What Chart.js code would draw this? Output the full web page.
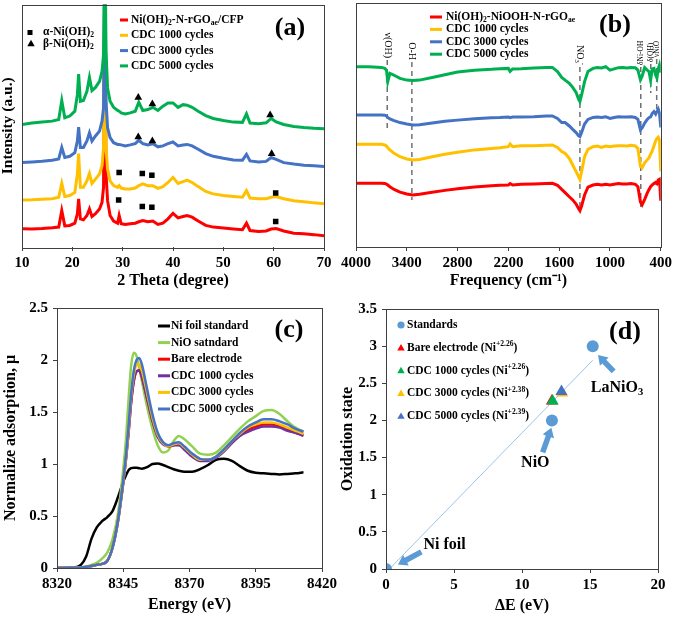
<!DOCTYPE html>
<html>
<head>
<meta charset="utf-8">
<script src="https://cdn.jsdelivr.net/npm/chart.js@4.4.1/dist/chart.umd.min.js"></script>
<style>
  html, body { margin: 0; padding: 0; background: #fff; }
  #wrap { position: relative; width: 675px; height: 618px; }
  #wrap canvas { position: absolute; left: 0; top: 0; }
</style>
</head>
<body>
<div id="wrap">
  <canvas id="xrd" width="675" height="618"></canvas>
  <canvas id="ftir" width="675" height="618"></canvas>
  <canvas id="xanes" width="675" height="618"></canvas>
  <canvas id="ox" width="675" height="618"></canvas>
</div>
<script>
// ---- (a) XRD patterns, intensity in arbitrary units ----
const xrdTheta = [10,12,14,16,17.3,17.9,18.5,19.5,20.5,21.0,21.25,21.6,22.2,22.9,23.4,23.9,24.6,25.4,25.9,26.2,26.45,26.7,27.0,27.5,28.2,29.0,29.3,29.7,30.5,31.5,32.5,33.2,34.0,35.0,36.0,37.0,38.0,39.0,40.0,41.0,42.0,42.8,43.8,45.0,46.5,48,50,52,53.8,54.6,55.3,57,58.5,59.5,60.5,62,64,66,68,70];
const xrdBare = [7.5,7.4,7.6,7.9,8.2,15.0,8.7,8.9,9.8,13.7,19.8,11.6,11.2,13.0,15.7,12.6,13.7,15.7,18.4,24.6,110,30.0,19.1,13.0,10.7,9.8,13.0,9.6,9.3,9.6,9.8,10.4,10.9,10.4,10.7,9.3,9.8,11.6,13.9,12.0,12.6,13.0,12.3,10.7,8.9,8.2,7.8,7.4,7.1,9.8,6.8,6.4,6.6,7.4,7.6,6.6,5.7,5.5,5.1,4.6];
const xrd1000 = [19.4,19.5,19.7,19.9,20.5,26.2,20.8,21.2,22.5,30.1,38.5,24.6,24.6,27.3,30.3,26.2,28.0,30.1,33.5,41.0,115,41.0,32.1,27.3,25.3,24.6,25.3,24.3,23.9,23.9,24.3,25.3,26.0,25.3,25.3,24.2,24.9,26.6,28.7,26.2,27.0,27.6,26.6,24.9,22.9,21.9,21.2,20.8,20.5,23.2,20.2,19.9,19.9,20.5,20.8,19.9,19.1,18.7,18.2,17.8];
const xrd3000 = [34.8,35.1,35.4,35.8,36.3,41.0,36.9,37.4,38.9,43.7,49.4,41.0,41.0,43.7,47.1,43.7,45.8,47.8,51.9,57.4,120,60.1,49.2,45.1,43.0,42.3,42.3,42.1,41.7,42.1,42.6,44.0,42.6,42.1,42.6,41.3,41.7,42.6,43.3,41.7,42.1,42.3,41.7,40.3,38.5,37.4,36.6,35.9,35.8,38.2,35.5,35.1,35.3,36.9,36.1,34.8,34.2,33.7,33.5,33.2];
const xrd5000 = [50.5,51.1,51.5,51.9,52.6,60.4,53.3,54.0,56.0,62.8,71.3,60.1,60.4,64.2,69.9,64.5,65.8,68.3,72.4,79.2,130,80.6,65.6,60.1,57.6,56.3,56.0,55.3,54.9,55.3,56.0,59.7,56.3,56.7,57.6,56.3,58.1,59.4,59.4,57.6,58.7,58.5,57.6,56.0,54.2,53.0,52.2,51.5,51.4,54.9,51.1,50.8,51.2,53.0,51.6,50.5,49.7,49.3,49.0,48.8];
const alphaTheta = [29.2, 33.9, 35.8, 60.4, 29.3, 33.9, 35.8, 60.4];
const alphaInt = [19.4, 16.7, 16.4, 10.5, 30.7, 30.3, 29.6, 22.3];
const betaTheta = [33.1, 35.9, 59.6, 33.1, 35.9, 59.3];
const betaInt = [45.4, 43.7, 38.5, 61.7, 59.0, 54.4];
const xrdNames = [
  ['Ni(OH)', ['2', 'sub'], '-N-rGO', ['ae', 'sub'], '/CFP'],
  ['CDC 1000 cycles'], ['CDC 3000 cycles'], ['CDC 5000 cycles']
];

// ---- (b) FTIR spectra ----
const ftirFreq = [4000,3850,3700,3660,3640,3625,3600,3550,3480,3400,3330,3250,3100,2950,2800,2600,2400,2300,2200,2180,2150,2050,1900,1750,1680,1620,1570,1530,1480,1440,1400,1370,1355,1335,1300,1260,1200,1150,1100,1050,1000,950,900,850,800,750,700,670,640,620,590,560,540,520,500,480,460,445,430,415,400];
const ftirBare = [26.1,26.1,26.1,26.0,25.8,25.4,24.7,23.6,22.5,21.7,21.3,21.6,22.4,23.2,23.9,24.6,25.1,25.3,25.4,26.0,25.4,25.7,25.8,26.0,26.1,25.3,23.6,22.3,20.6,19.3,17.6,15.7,14.9,16.8,21.3,24.5,25.4,25.7,25.4,25.7,25.4,25.7,26.0,25.8,25.8,26.0,25.7,24.7,18.5,17.3,19.5,22.1,23.5,24.7,25.5,26.0,26.5,26.0,27.5,27.8,19.0];
const ftir1000 = [42.1,42.1,42.1,41.8,41.4,40.7,39.8,38.4,37.0,36.1,35.7,35.9,37.0,38.0,38.8,39.8,40.4,40.7,41.1,42.2,41.1,41.5,41.5,41.7,41.8,40.8,39.1,38.4,36.3,33.6,30.9,28.8,27.7,30.9,37.0,40.0,41.1,41.4,40.8,41.4,41.1,41.4,41.5,41.5,41.4,41.7,41.4,40.4,33.0,32.5,34.5,35.7,36.5,38.0,39.5,41.5,43.5,44.5,45.0,44.0,31.0];
const ftir3000 = [54.1,54.1,54.1,54.0,53.7,53.1,52.5,51.8,51.0,50.4,50.0,50.1,50.8,51.5,52.0,52.6,53.0,53.1,53.3,53.0,53.3,53.3,53.4,53.7,53.7,52.7,51.0,51.0,49.6,48.2,46.9,45.5,45.2,46.9,50.4,52.3,53.1,53.3,53.1,53.4,52.7,53.1,53.4,53.3,53.3,53.4,53.1,52.3,48.0,48.8,50.8,52.3,53.0,53.3,54.8,55.5,54.5,55.5,56.5,55.0,49.0];
const ftir5000 = [73.9,73.9,73.6,73.2,72.5,67.8,71.2,70.4,69.1,68.4,68.2,68.4,69.5,70.6,71.7,72.4,72.8,73.1,73.2,72.0,73.0,73.1,73.4,73.6,73.6,71.9,69.5,68.4,67.1,65.4,63.3,60.5,59.6,62.3,67.8,71.9,73.2,73.6,73.4,73.9,72.5,73.0,73.5,73.6,73.4,73.6,73.5,72.5,68.5,70.0,73.5,72.5,72.0,68.4,73.0,73.2,70.5,69.3,73.0,74.6,71.5];
const peakFreq = [3631, 3340, 1355, 636, 518, 448];
const dashTop = [76.6, 75.8, 73.8, 73.8, 75.0, 77.0];
const dashBottom = [48.8, 19.3, 16.4, 16.4, 63.1, 56.1];
const peakNames = [['ν(OH)'], ['O-H'], ['NO', ['3', 'sub'], ['-', 'sup']], ['δNi-OH'], ['δ(OH)'], ['νNiO']];
const ftirNames = [
  ['Ni(OH)', ['2', 'sub'], '-NiOOH-N-rGO', ['ae', 'sub']],
  ['CDC 1000 cycles'], ['CDC 3000 cycles'], ['CDC 5000 cycles']
];

// ---- (c) Ni K-edge XANES ----
const xanesE = [8320,8326,8329,8331,8333,8335,8337,8339,8341,8343,8345,8346,8347,8348,8349,8350,8351,8352,8354,8356,8358,8360,8362,8364,8366,8368,8371,8374,8377,8380,8383,8386,8389,8392,8395,8398,8401,8404,8407,8410,8413];
const muFoil = [0,0.005,0.03,0.11,0.28,0.39,0.45,0.49,0.55,0.68,0.83,0.89,0.94,0.96,0.965,0.965,0.96,0.955,0.97,1.0,1.005,0.99,0.97,0.95,0.935,0.925,0.925,0.95,0.99,1.04,1.05,1.03,0.98,0.935,0.915,0.91,0.905,0.90,0.905,0.91,0.92];
const muNiO = [0,0.003,0.008,0.015,0.03,0.05,0.09,0.15,0.28,0.52,0.95,1.23,1.62,1.95,2.07,2.04,1.93,1.8,1.55,1.34,1.18,1.11,1.13,1.22,1.27,1.24,1.17,1.10,1.09,1.11,1.18,1.26,1.34,1.41,1.46,1.51,1.52,1.48,1.41,1.35,1.31];
const muBare = [0,0.002,0.005,0.01,0.02,0.03,0.04,0.07,0.2,0.45,0.82,1.04,1.3,1.6,1.8,1.89,1.9,1.84,1.63,1.42,1.27,1.2,1.17,1.18,1.19,1.15,1.08,1.04,1.04,1.07,1.13,1.21,1.28,1.33,1.36,1.38,1.38,1.36,1.33,1.3,1.28];
const mu1000 = [0,0.002,0.005,0.01,0.02,0.03,0.04,0.07,0.2,0.45,0.82,1.04,1.3,1.6,1.8,1.89,1.9,1.84,1.63,1.42,1.26,1.19,1.17,1.18,1.18,1.14,1.07,1.03,1.03,1.06,1.12,1.2,1.27,1.31,1.34,1.36,1.36,1.35,1.32,1.3,1.27];
const mu3000 = [0,0.002,0.005,0.01,0.02,0.03,0.04,0.07,0.2,0.45,0.83,1.05,1.33,1.65,1.86,1.95,1.96,1.9,1.68,1.45,1.28,1.2,1.17,1.19,1.2,1.16,1.09,1.04,1.04,1.07,1.13,1.22,1.29,1.35,1.38,1.4,1.4,1.38,1.35,1.32,1.29];
const mu5000 = [0,0.002,0.005,0.01,0.02,0.03,0.04,0.07,0.2,0.45,0.84,1.07,1.36,1.68,1.9,2.0,2.02,1.96,1.72,1.48,1.3,1.21,1.18,1.2,1.21,1.17,1.1,1.05,1.04,1.07,1.14,1.22,1.3,1.36,1.4,1.43,1.43,1.41,1.38,1.34,1.31];
const xanesNames = ['Ni foil standard', 'NiO satndard', 'Bare electrode', 'CDC 1000 cycles', 'CDC 3000 cycles', 'CDC 5000 cycles'];

// ---- (d) oxidation state vs edge shift ----
const stdShift = [0, 12.2, 15.2];
const stdOx = [0, 2, 3];
const sampleShift = [12.2, 12.25, 12.95, 12.9];
const sampleOx = [2.26, 2.26, 2.37, 2.39];
const trendShift = [0.25, 15.2];
const trendOx = [0, 2.81];
const oxNames = [
  ['Standards'],
  ['Bare electrode (Ni', ['+2.26', 'sup'], ')'],
  ['CDC 1000 cycles (Ni', ['+2.26', 'sup'], ')'],
  ['CDC 3000 cycles (Ni', ['+2.38', 'sup'], ')'],
  ['CDC 5000 cycles (Ni', ['+2.39', 'sup'], ')']
];
const calloutNames = [['LaNiO', ['3', 'sub']], ['NiO'], ['Ni foil']];
const calloutX = [16.99, 10.98, 4.31];
const calloutY = [2.44, 1.43, 0.33];
const arrowFromX = [16.74, 11.52, 2.6];
const arrowFromY = [2.66, 1.57, 0.23];
const arrowToX = [15.59, 12.16, 0.88];
const arrowToY = [2.88, 1.90, 0.06];

const FONT = "'Liberation Serif', 'Times New Roman', serif";
const C = { red: '#FF0000', yellow: '#FFC000', blue: '#4472C4', green: '#00B050', lime: '#92D050', purple: '#7030A0', std: '#5B9BD5', trend: '#9DC3E6', axis: '#404040' };

Chart.defaults.font.family = FONT;
Chart.defaults.font.weight = 'bold';
Chart.defaults.color = '#000';
Chart.defaults.animation = false;
Chart.defaults.events = [];
Chart.defaults.plugins.legend.display = false;
Chart.defaults.plugins.tooltip.enabled = false;

const pts = (xs, ys) => xs.map((x, i) => ({ x, y: ys[i] }));

function line(xs, ys, color, width, smooth) {
  return {
    data: pts(xs, ys), showLine: true, borderColor: color, backgroundColor: color,
    borderWidth: width || 2.5, pointRadius: 0,
    cubicInterpolationMode: smooth ? 'monotone' : 'default'
  };
}

function xAxis(min, max, step, title, height, titlePad, extra) {
  return Object.assign({
    type: 'linear', min, max,
    ticks: { stepSize: step, font: { size: 15 }, padding: 3, maxRotation: 0, autoSkip: false, callback: v => String(v) },
    grid: { drawOnChartArea: false, tickLength: 4, color: C.axis },
    border: { display: false },
    title: { display: true, text: title, font: { size: 16 }, padding: { top: 0, bottom: titlePad } },
    afterFit: s => { s.height = height; }
  }, extra || {});
}

function yAxis(min, max, step, title, width) {
  return {
    type: 'linear', min, max,
    ticks: { stepSize: step, font: { size: 15 }, padding: 5, callback: v => String(v) },
    grid: { drawOnChartArea: false, tickLength: 4, color: C.axis },
    border: { display: false },
    title: { display: true, text: title, font: { size: 16 }, padding: { top: 1, bottom: 0 } },
    afterFit: s => { s.width = width; }
  };
}

// text with sub/superscript pieces
function partsWidth(ctx, parts, size, weight) {
  let w = 0;
  for (const p of parts) {
    const t = typeof p === 'string' ? p : p[0];
    const sc = typeof p === 'string' ? 1 : 0.66;
    ctx.font = `${weight} ${size * sc}px ${FONT}`;
    w += ctx.measureText(t).width;
  }
  return w;
}
function rich(ctx, x, y, parts, size, weight, align) {
  weight = weight || 'bold';
  let cx = align === 'center' ? x - partsWidth(ctx, parts, size, weight) / 2 : x;
  ctx.textBaseline = 'middle';
  ctx.textAlign = 'left';
  for (const p of parts) {
    const t = typeof p === 'string' ? p : p[0];
    const mode = typeof p === 'string' ? '' : p[1];
    ctx.font = `${weight} ${mode ? size * 0.66 : size}px ${FONT}`;
    const dy = mode === 'sub' ? size * 0.3 : mode === 'sup' ? -size * 0.33 : 0;
    ctx.fillText(t, cx, y + dy);
    cx += ctx.measureText(t).width;
  }
}
function tri(ctx, x, y, r) {
  ctx.beginPath();
  ctx.moveTo(x, y - r);
  ctx.lineTo(x - r * 0.866, y + r / 2);
  ctx.lineTo(x + r * 0.866, y + r / 2);
  ctx.closePath();
  ctx.fill();
}
function panelTag(ctx, text, x, y) {
  ctx.font = `bold 26px ${FONT}`;
  ctx.textAlign = 'center';
  ctx.textBaseline = 'middle';
  ctx.fillStyle = '#000';
  ctx.fillText(text, x, y);
}

const frame = {
  id: 'frame',
  afterDatasetsDraw(c) {
    const { ctx, chartArea: a } = c;
    ctx.save();
    ctx.strokeStyle = C.axis;
    ctx.lineWidth = 1;
    ctx.strokeRect(Math.round(a.left) + 0.5, Math.round(a.top) + 0.5, Math.round(a.right - a.left), Math.round(a.bottom - a.top));
    ctx.restore();
  }
};

// (a)
new Chart(document.getElementById('xrd'), {
  type: 'scatter',
  data: {
    datasets: [
      { data: pts(alphaTheta, alphaInt), pointStyle: 'rect', pointRadius: 3.9, backgroundColor: '#000', borderWidth: 0 },
      { data: pts(betaTheta, betaInt), pointStyle: 'triangle', pointRadius: 4.5, backgroundColor: '#000', borderWidth: 0 },
      line(xrdTheta, xrd5000, C.green, 3),
      line(xrdTheta, xrd3000, C.blue, 3),
      line(xrdTheta, xrd1000, C.yellow, 3),
      line(xrdTheta, xrdBare, C.red, 3)
    ]
  },
  options: {
    responsive: false,
    layout: { padding: { left: 0, top: 3, right: 351, bottom: 318 } },
    scales: {
      x: xAxis(10, 70, 10, '2 Theta (degree)', 53, 10),
      y: {
        min: 0, max: 100,
        ticks: { display: false }, grid: { display: false }, border: { display: false },
        title: { display: true, text: 'Intensity (a.u.)', font: { size: 15.5, lineHeight: 1 }, padding: 0 },
        afterFit: s => { s.width = 22; }
      }
    }
  },
  plugins: [frame, {
    id: 'legendA',
    afterDraw(c) {
      const ctx = c.ctx;
      ctx.save();
      const cols = [C.red, C.yellow, C.blue, C.green];
      xrdNames.forEach((lab, i) => {
        const y = 20 + i * 15.3;
        ctx.fillStyle = cols[i];
        ctx.fillRect(120, y - 1.5, 8, 3);
        ctx.fillStyle = '#000';
        rich(ctx, 131, y, lab, 11.5);
      });
      ctx.fillStyle = '#000';
      ctx.fillRect(27.5, 30, 5, 5);
      tri(ctx, 31, 44, 4.3);
      rich(ctx, 43, 32, ['α-Ni(OH)', ['2', 'sub']], 11.5);
      rich(ctx, 43, 44, ['β-Ni(OH)', ['2', 'sub']], 11.5);
      panelTag(ctx, '(a)', 290, 28);
      ctx.restore();
    }
  }]
});

// (b)
const dashSets = peakFreq.map((f, i) => ({
  data: [{ x: f, y: dashTop[i] }, { x: f, y: dashBottom[i] }],
  showLine: true, borderColor: '#707070', borderWidth: 1.5, borderDash: [5, 4], pointRadius: 0
}));
new Chart(document.getElementById('ftir'), {
  type: 'scatter',
  data: {
    datasets: [
      line(ftirFreq, ftir5000, C.green, 3),
      line(ftirFreq, ftir3000, C.blue, 3),
      line(ftirFreq, ftir1000, C.yellow, 3),
      line(ftirFreq, ftirBare, C.red, 3),
      ...dashSets
    ]
  },
  options: {
    responsive: false,
    layout: { padding: { left: 356, top: 3, right: 14, bottom: 318 } },
    scales: {
      x: xAxis(400, 4000, 600, 'Frequency (cm⁻¹)', 53, 10, { reverse: true }),
      y: { display: false, min: 0, max: 100 }
    }
  },
  plugins: [frame, {
    id: 'legendB',
    afterDraw(c) {
      const ctx = c.ctx, xs = c.scales.x, ys = c.scales.y;
      ctx.save();
      const cols = [C.red, C.yellow, C.blue, C.green];
      ftirNames.forEach((lab, i) => {
        const y = 17 + i * 12.4;
        ctx.fillStyle = cols[i];
        ctx.fillRect(430, y - 1.5, 12, 3);
        ctx.fillStyle = '#000';
        rich(ctx, 446, y, lab, 11.5);
      });
      peakNames.forEach((lab, i) => {
        const px = xs.getPixelForValue(peakFreq[i]);
        const py = ys.getPixelForValue(dashTop[i]) - 2;
        const size = i < 3 ? 10 : 7.5;
        const dir = i < 3 ? 1 : -1;
        const w = partsWidth(ctx, lab, size, 'normal');
        ctx.save();
        ctx.translate(px, py);
        ctx.rotate(dir * Math.PI / 2);
        ctx.fillStyle = '#000';
        rich(ctx, dir > 0 ? -w : 0, 0, lab, size, 'normal');
        ctx.restore();
      });
      panelTag(ctx, '(b)', 615, 25);
      ctx.restore();
    }
  }]
});

// (c)
const xanesCols = ['#000000', C.lime, C.red, C.purple, C.yellow, C.blue];
new Chart(document.getElementById('xanes'), {
  type: 'scatter',
  data: {
    datasets: [
      line(xanesE, mu5000, C.blue, 2.5, true),
      line(xanesE, mu3000, C.yellow, 2.5, true),
      line(xanesE, mu1000, C.purple, 2.5, true),
      line(xanesE, muBare, C.red, 2.5, true),
      line(xanesE, muNiO, C.lime, 2.5, true),
      line(xanesE, muFoil, '#000000', 2.5, true)
    ]
  },
  options: {
    responsive: false,
    layout: { padding: { left: 0, top: 308, right: 353, bottom: 0 } },
    scales: {
      x: xAxis(8320, 8420, 25, 'Energy (eV)', 50, 4),
      y: yAxis(0, 2.5, 0.5, 'Normalize adsorption, μ', 57)
    }
  },
  plugins: [frame, {
    id: 'legendC',
    afterDraw(c) {
      const ctx = c.ctx;
      ctx.save();
      xanesNames.forEach((lab, i) => {
        const y = 326 + i * 16.6;
        ctx.fillStyle = xanesCols[i];
        ctx.fillRect(158, y - 1.5, 12, 3);
        ctx.fillStyle = '#000';
        rich(ctx, 171, y, [lab], 11.5);
      });
      panelTag(ctx, '(c)', 289, 330);
      ctx.restore();
    }
  }]
});

// (d)
const sampleCols = [C.red, C.green, C.yellow, C.blue];
const sampleSets = sampleShift.map((x, i) => ({
  data: [{ x, y: sampleOx[i] }], pointStyle: 'triangle', pointRadius: 7,
  backgroundColor: sampleCols[i], borderWidth: 0
})).reverse();
new Chart(document.getElementById('ox'), {
  type: 'scatter',
  data: {
    datasets: [
      ...sampleSets,
      { data: pts(stdShift, stdOx), pointStyle: 'circle', pointRadius: 6, backgroundColor: C.std, borderWidth: 0 },
      { data: pts(trendShift, trendOx), showLine: true, borderColor: C.trend, borderWidth: 1, pointRadius: 0 }
    ]
  },
  options: {
    responsive: false,
    layout: { padding: { left: 337, top: 309, right: 17, bottom: 0 } },
    scales: {
      x: xAxis(0, 20, 5, 'ΔE (eV)', 49, 3),
      y: yAxis(0, 3.5, 0.5, 'Oxidation state', 49)
    }
  },
  plugins: [frame, {
    id: 'legendD',
    afterDraw(c) {
      const ctx = c.ctx, xs = c.scales.x, ys = c.scales.y;
      ctx.save();
      oxNames.forEach((lab, i) => {
        const y = 325 + i * 22.8;
        if (i === 0) {
          ctx.fillStyle = C.std;
          ctx.beginPath(); ctx.arc(401, y, 3.6, 0, Math.PI * 2); ctx.fill();
        } else {
          ctx.fillStyle = sampleCols[i - 1];
          tri(ctx, 401, y + 0.5, 4.3);
        }
        ctx.fillStyle = '#000';
        rich(ctx, 407, y, lab, 11.5);
      });
      // callout arrows
      ctx.fillStyle = C.std;
      arrowFromX.forEach((fx, i) => {
        const x0 = xs.getPixelForValue(fx), y0 = ys.getPixelForValue(arrowFromY[i]);
        const x1 = xs.getPixelForValue(arrowToX[i]), y1 = ys.getPixelForValue(arrowToY[i]);
        const a = Math.atan2(y1 - y0, x1 - x0), L = Math.hypot(x1 - x0, y1 - y0);
        const sh = 5.5, hw = 12, hl = 9;
        ctx.save();
        ctx.translate(x0, y0); ctx.rotate(a);
        ctx.beginPath();
        ctx.moveTo(0, -sh / 2); ctx.lineTo(L - hl, -sh / 2); ctx.lineTo(L - hl, -hw / 2);
        ctx.lineTo(L, 0); ctx.lineTo(L - hl, hw / 2); ctx.lineTo(L - hl, sh / 2); ctx.lineTo(0, sh / 2);
        ctx.closePath(); ctx.fill();
        ctx.restore();
      });
      ctx.fillStyle = '#000';
      calloutNames.forEach((lab, i) => {
        rich(ctx, xs.getPixelForValue(calloutX[i]), ys.getPixelForValue(calloutY[i]), lab, 16, 'bold', 'center');
      });
      panelTag(ctx, '(d)', 625, 332);
      ctx.restore();
    }
  }]
});
</script>
</body>
</html>
